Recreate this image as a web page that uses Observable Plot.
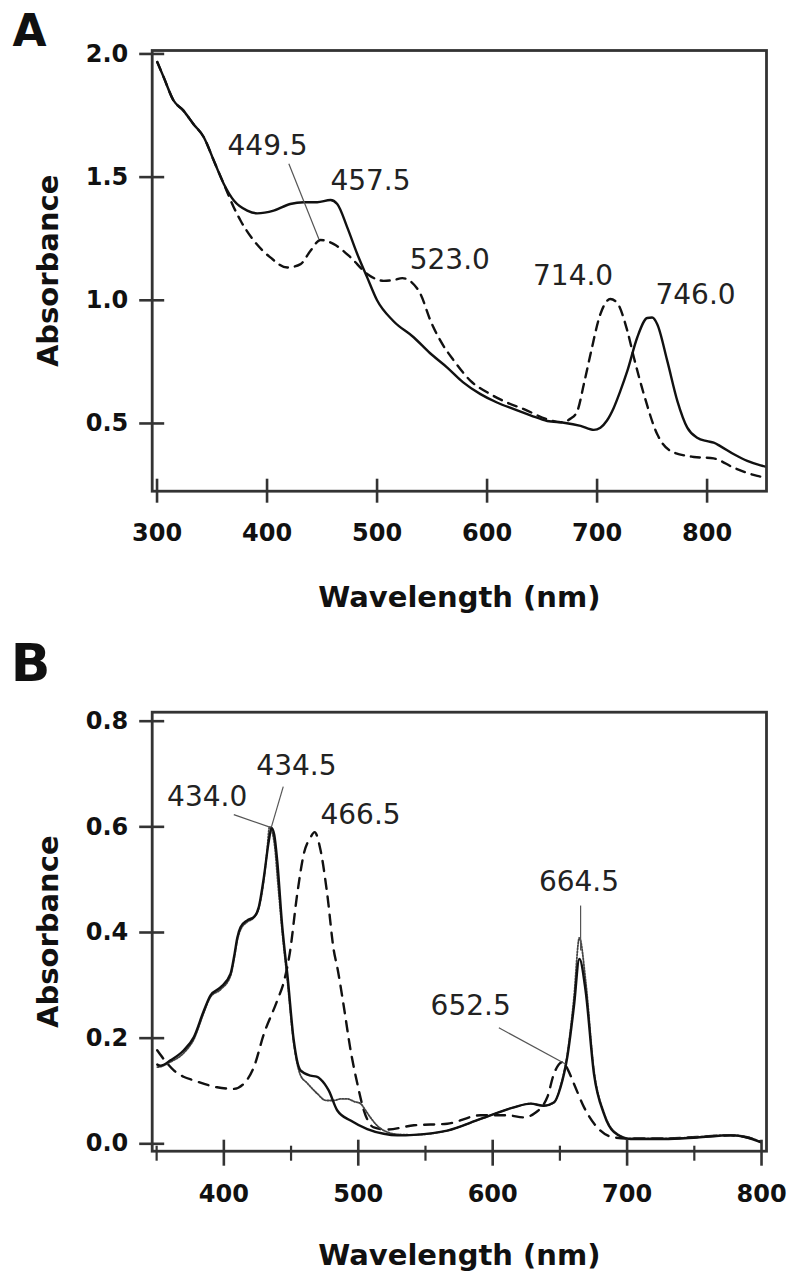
<!DOCTYPE html>
<html>
<head>
<meta charset="utf-8">
<script src="https://cdn.jsdelivr.net/npm/d3@7"></script>
<script src="https://cdn.jsdelivr.net/npm/@observablehq/plot@0.6"></script>
<style>
  html, body { margin: 0; padding: 0; background: #fff; }
  #chart svg { display: block; }
</style>
</head>
<body>
<div id="chart"></div>
<script>
// ---------------- Panel A data ----------------
const aTicksX = [300, 400, 500, 600, 700, 800];
const aTicksY = [0.5, 1.0, 1.5, 2.0];

const aSolidX = [300.2, 306, 315, 324, 333, 342.5, 351.6, 360.7, 369.8, 382, 391, 406, 421, 433.5, 445.6, 457.7, 463.8, 472.9, 482, 491, 500, 515, 533.5, 548, 563.8, 578, 594, 609, 624.4, 640, 654.7, 669.8, 685, 697, 703, 709, 715.2, 721, 727.5, 736.5, 745.6, 750, 754.7, 763.8, 773, 782, 791, 800, 806, 812, 824.4, 836.5, 848.6, 853];
const aSolidY = [1.967, 1.906, 1.811, 1.770, 1.716, 1.662, 1.567, 1.472, 1.405, 1.364, 1.353, 1.364, 1.391, 1.398, 1.398, 1.407, 1.391, 1.296, 1.188, 1.093, 1.000, 0.915, 0.849, 0.786, 0.727, 0.668, 0.619, 0.585, 0.558, 0.532, 0.510, 0.503, 0.490, 0.474, 0.483, 0.512, 0.564, 0.630, 0.713, 0.849, 0.928, 0.930, 0.903, 0.754, 0.591, 0.483, 0.442, 0.428, 0.422, 0.408, 0.375, 0.348, 0.330, 0.325];

const aDashedX = [300.2, 306, 315, 324, 333, 342.5, 351.6, 360.7, 369.8, 376, 388, 403, 418.4, 430.5, 439.5, 448.6, 460.7, 476, 491, 506, 515, 523, 531, 539.5, 548.6, 557.7, 570, 585, 603, 618, 633.5, 654.7, 667, 676, 682, 688, 694, 703, 712, 718, 727.5, 733.5, 742.5, 754.7, 767, 788, 806, 824.4, 845.6, 853];
const aDashedY = [1.967, 1.906, 1.811, 1.770, 1.716, 1.662, 1.567, 1.472, 1.377, 1.323, 1.242, 1.174, 1.133, 1.147, 1.201, 1.245, 1.228, 1.174, 1.107, 1.079, 1.082, 1.090, 1.075, 1.025, 0.917, 0.835, 0.754, 0.673, 0.619, 0.585, 0.558, 0.517, 0.505, 0.520, 0.550, 0.660, 0.781, 0.944, 1.005, 0.991, 0.876, 0.767, 0.619, 0.456, 0.388, 0.364, 0.358, 0.320, 0.287, 0.280];

const aPeakLabels = ["449.5", "457.5", "523.0", "714.0", "746.0"];
const aPeakLabelX = [400.5, 494, 566.1, 678.2, 789.5];
const aPeakLabelY = [1.628, 1.486, 1.165, 1.100, 1.022];
const aLeaderX1 = [419.8];
const aLeaderY1 = [1.554];
const aLeaderX2 = [447.1];
const aLeaderY2 = [1.249];

// ---------------- Panel B data ----------------
const bTicksX = [400, 500, 600, 700, 800];
const bMinorTicksX = [350, 450, 550, 650, 750];
const bTicksY = [0.0, 0.2, 0.4, 0.6, 0.8];

const bSolidX = [350.5, 352.9, 360.3, 370.2, 377.7, 385.1, 390.1, 397.5, 405, 408, 410, 412.4, 417.4, 422.3, 426, 429.8, 433.5, 435.5, 437.5, 439.7, 443.5, 445.5, 447.2, 452, 457, 464.5, 469, 472, 478, 484.4, 494.3, 506.7, 519, 529, 541.4, 566.2, 591, 615.8, 628.2, 638.1, 645.5, 650.5, 655.5, 660.4, 664.5, 669.1, 675.3, 682.7, 690.2, 702.6, 727.4, 752.2, 777, 789.4, 799.3];
const bSolidY = [0.150, 0.148, 0.158, 0.177, 0.202, 0.252, 0.281, 0.296, 0.322, 0.360, 0.390, 0.410, 0.423, 0.429, 0.448, 0.505, 0.574, 0.598, 0.585, 0.536, 0.410, 0.360, 0.322, 0.196, 0.139, 0.129, 0.127, 0.122, 0.101, 0.063, 0.044, 0.028, 0.019, 0.016, 0.017, 0.025, 0.047, 0.069, 0.076, 0.072, 0.078, 0.107, 0.164, 0.259, 0.350, 0.290, 0.133, 0.057, 0.022, 0.009, 0.009, 0.012, 0.016, 0.012, 0.003];

const bDottedX = [350.5, 352.9, 360.3, 370.2, 377.7, 385.1, 390.1, 397.5, 405, 408, 410, 412.4, 417.4, 422.3, 426, 429.8, 432, 434, 436, 438, 440, 443.5, 447.2, 452, 457, 462, 469.5, 476, 481.8, 487, 491.8, 497, 501.7, 505, 509, 516, 529, 541.4, 566.2, 591, 615.8, 628.2, 638.1, 645.5, 650.5, 655.5, 660.4, 664.5, 669.1, 675.3, 682.7, 690.2, 702.6, 727.4, 752.2, 777, 789.4, 799.3];
const bDottedY = [0.145, 0.146, 0.155, 0.172, 0.198, 0.248, 0.278, 0.292, 0.318, 0.355, 0.385, 0.405, 0.420, 0.428, 0.446, 0.500, 0.550, 0.600, 0.590, 0.560, 0.500, 0.400, 0.310, 0.190, 0.130, 0.115, 0.095, 0.082, 0.082, 0.085, 0.085, 0.080, 0.076, 0.065, 0.050, 0.030, 0.018, 0.017, 0.025, 0.047, 0.069, 0.076, 0.072, 0.078, 0.110, 0.170, 0.275, 0.390, 0.310, 0.140, 0.060, 0.024, 0.010, 0.010, 0.013, 0.017, 0.013, 0.004];

const bDashedX = [350.4, 356, 362.8, 370, 377.7, 395, 407.4, 414.9, 422.3, 429.8, 439.7, 445, 449, 454.6, 459.5, 464.5, 467.5, 472, 476.9, 481.8, 484.4, 489.3, 494.3, 499.3, 504.2, 511.6, 521.6, 541.4, 566.2, 591, 611, 623.2, 630.7, 640.6, 645.5, 652.5, 656, 660.4, 668, 677.8, 690.2, 702.6, 727.4, 752.2, 777, 789.4, 799.3];
const bDashedY = [0.177, 0.158, 0.139, 0.127, 0.120, 0.107, 0.104, 0.114, 0.145, 0.208, 0.271, 0.310, 0.360, 0.473, 0.549, 0.580, 0.590, 0.555, 0.473, 0.366, 0.334, 0.259, 0.177, 0.114, 0.063, 0.031, 0.027, 0.035, 0.038, 0.054, 0.054, 0.050, 0.057, 0.088, 0.132, 0.155, 0.140, 0.114, 0.069, 0.031, 0.012, 0.010, 0.010, 0.013, 0.016, 0.012, 0.004];

const bPeakLabels = ["434.0", "434.5", "466.5", "664.5", "652.5"];
const bPeakLabelX = [387.6, 454.0, 501.7, 664.2, 583.6];
const bPeakLabelY = [0.656, 0.716, 0.622, 0.495, 0.260];
const bLeaderX1 = [407.4, 444.2, 665.4, 604.6];
const bLeaderY1 = [0.623, 0.676, 0.451, 0.2196];
const bLeaderX2 = [434.7, 435.3, 665.4, 654.2];
const bLeaderY2 = [0.599, 0.599, 0.366, 0.151];

// ---------------- helpers ----------------
const zip = (xs, ys) => xs.map((x, i) => ({wavelength: x, absorbance: ys[i]}));
const labelRows = (t, xs, ys) => t.map((s, i) => ({label: s, x: xs[i], y: ys[i]}));
const leaderRows = (x1, y1, x2, y2) => x1.map((v, i) => ({x1: v, y1: y1[i], x2: x2[i], y2: y2[i]}));

const FONT = "DejaVu Sans";
const AXIS = "#333";
const INK = "#111";

function panel(o) {
  return Plot.plot({
    width: 795,
    height: o.height,
    marginLeft: 151.7,
    marginRight: 29,
    marginTop: o.marginTop,
    marginBottom: o.marginBottom,
    style: {fontFamily: FONT, background: "#fff", color: INK, overflow: "visible"},
    x: {domain: o.xDomain, label: null},
    y: {domain: o.yDomain, label: null},
    marks: [
      ...o.lines,
      Plot.link(o.leaders, {x1: "x1", y1: "y1", x2: "x2", y2: "y2", stroke: "#555", strokeWidth: 1.2}),
      Plot.text(o.labels, {x: "x", y: "y", text: "label", fontSize: 28, fontFamily: FONT, fill: "#222"}),
      Plot.frame({stroke: AXIS, strokeWidth: 2.8}),
      Plot.axisY(o.yTicks, {tickSize: 25, dx: 12.5, fill: "none", stroke: AXIS, strokeWidth: 2.6, label: null}),
      Plot.axisY(o.yTicks, {tickSize: 0, tickPadding: 24, stroke: "none", fontSize: 24, fontWeight: "bold", label: null, tickFormat: d3.format(".1f")}),
      ...o.xTickMarks,
      Plot.axisX(o.xTicks, {tickSize: 0, tickPadding: o.xLabelPad, stroke: "none", fontSize: 24, fontWeight: "bold", label: null, tickFormat: d3.format("d")}),
      Plot.text([o.letter], {frameAnchor: "top-left", textAnchor: "middle", lineAnchor: "middle", dx: o.letterDx, dy: o.letterDy, fontSize: o.letterSize, fontWeight: "bold", text: d => d}),
      Plot.text(["Absorbance"], {frameAnchor: "left", textAnchor: "middle", lineAnchor: "middle", rotate: -90, dx: -103.4, fontSize: 29, fontWeight: "bold", text: d => d}),
      Plot.text(["Wavelength (nm)"], {frameAnchor: "bottom", textAnchor: "middle", lineAnchor: "middle", dy: o.xTitleDy, fontSize: 29, fontWeight: "bold", text: d => d})
    ]
  });
}

const lineStyle = {x: "wavelength", y: "absorbance", stroke: INK, curve: "monotone-x"};

const chartA = panel({
  height: 640, marginTop: 50, marginBottom: 149.3,
  xDomain: [295.6, 854], yDomain: [0.225, 2.014],
  xTicks: aTicksX, yTicks: aTicksY,
  xTickMarks: [Plot.axisX(aTicksX, {tickSize: 24, dy: -12, fill: "none", stroke: AXIS, strokeWidth: 2.6, label: null})],
  xLabelPad: 32.5, xTitleDy: 107,
  letter: "A", letterDx: -122.7, letterDy: -19, letterSize: 44,
  lines: [
    Plot.line(zip(aDashedX, aDashedY), {...lineStyle, strokeWidth: 2.4, strokeDasharray: "9,7"}),
    Plot.line(zip(aSolidX, aSolidY), {...lineStyle, strokeWidth: 2.4})
  ],
  labels: labelRows(aPeakLabels, aPeakLabelX, aPeakLabelY),
  leaders: leaderRows(aLeaderX1, aLeaderY1, aLeaderX2, aLeaderY2)
});

const chartB = panel({
  height: 647, marginTop: 71.7, marginBottom: 136.3,
  xDomain: [346.7, 803.7], yDomain: [-0.014, 0.817],
  xTicks: bTicksX, yTicks: bTicksY,
  xTickMarks: [
    Plot.axisX(bTicksX, {tickSize: 26, dy: -11, fill: "none", stroke: AXIS, strokeWidth: 2.6, label: null}),
    Plot.axisX(bMinorTicksX, {tickSize: 15, dy: -5, fill: "none", stroke: AXIS, strokeWidth: 2.2, label: null})
  ],
  xLabelPad: 34, xTitleDy: 105,
  letter: "B", letterDx: -121.7, letterDy: -47.7, letterSize: 52,
  lines: [
    Plot.line(zip(bDashedX, bDashedY), {...lineStyle, strokeWidth: 2.4, strokeDasharray: "10,8"}),
    Plot.line(zip(bDottedX, bDottedY), {...lineStyle, stroke: "#444", strokeWidth: 1.8, strokeDasharray: "1.5,1.5"}),
    Plot.line(zip(bSolidX, bSolidY), {...lineStyle, strokeWidth: 2.4})
  ],
  labels: labelRows(bPeakLabels, bPeakLabelX, bPeakLabelY),
  leaders: leaderRows(bLeaderX1, bLeaderY1, bLeaderX2, bLeaderY2)
});

document.getElementById("chart").append(chartA, chartB);
</script>
</body>
</html>
